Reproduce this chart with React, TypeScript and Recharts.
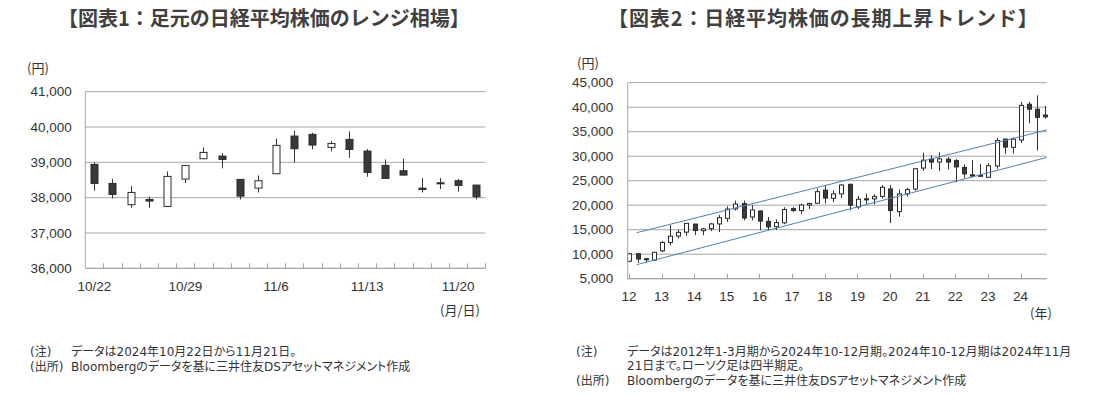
import React from 'react'
import { ComposedChart, Bar, XAxis, YAxis, CartesianGrid, ReferenceLine } from 'recharts'

// 図表1: 日次ローソク足 (2024/10/22〜11/21)
const dailyDates = ['10/22', '10/23', '10/24', '10/25', '10/28', '10/29', '10/30', '10/31', '11/1', '11/5', '11/6', '11/7', '11/8', '11/11', '11/12', '11/13', '11/14', '11/15', '11/18', '11/19', '11/20', '11/21']
const dailyOpen = [38941, 38403, 37800, 37950, 37752, 38526, 39102, 39178, 38517, 38271, 38677, 39744, 39791, 39423, 39650, 39319, 38913, 38762, 38270, 38420, 38479, 38356]
const dailyHigh = [38998, 38526, 38328, 38025, 38743, 38913, 39423, 39262, 38517, 38630, 39669, 39895, 39839, 39602, 39876, 39376, 39083, 39102, 38554, 38554, 38526, 38356]
const dailyLow = [38195, 37978, 37714, 37714, 37752, 38413, 39102, 38828, 37950, 38148, 38677, 38998, 39366, 39310, 39130, 38592, 38545, 38639, 38148, 38243, 38167, 37950]
const dailyClose = [38403, 38092, 38148, 37903, 38602, 38913, 39281, 39083, 38044, 38479, 39480, 39385, 39489, 39536, 39366, 38715, 38545, 38639, 38230, 38410, 38347, 38025]
const dailyLabels = ['10/22', '10/29', '11/6', '11/13', '11/20']
const dailyYTicks = [36000, 37000, 38000, 39000, 40000, 41000]

// 図表2: 四半期ローソク足 (2012年1-3月期〜2024年10-12月期)
const years = ['12', '13', '14', '15', '16', '17', '18', '19', '20', '21', '22', '23', '24']
const qOpen = [8560, 10100, 9070, 8800, 10690, 12400, 13700, 14500, 16150, 14800, 15200, 16180, 17325, 19250, 20330, 17600, 18820, 16720, 15600, 16400, 19300, 18900, 20050, 20400, 23070, 21400, 22300, 24250, 19650, 21300, 21300, 21800, 23320, 18690, 22300, 23300, 27580, 29400, 28800, 29400, 29100, 27700, 26200, 25900, 25700, 28000, 33500, 31800, 33300, 40600, 39600, 38400]
const qHigh = [10255, 10190, 9260, 10430, 12650, 15940, 14950, 16320, 16160, 15380, 16370, 18030, 19780, 20950, 20950, 20010, 18950, 17610, 17100, 19590, 19670, 20320, 20480, 23380, 24130, 23050, 24310, 24450, 21860, 22360, 22250, 24090, 24115, 23185, 23560, 27600, 30715, 30210, 30795, 29810, 29390, 28340, 29220, 28380, 28620, 33770, 33530, 33850, 41090, 41100, 42430, 40260]
const qLow = [8350, 8240, 8330, 8620, 10400, 11805, 13190, 13750, 13910, 13885, 14720, 14530, 16590, 18910, 16900, 16900, 14870, 14860, 14950, 16110, 18650, 18220, 19240, 20400, 20350, 20620, 21460, 18950, 19240, 20290, 20110, 21360, 16360, 17650, 21710, 22950, 27000, 27385, 26955, 27290, 24680, 25520, 25680, 25720, 25660, 27430, 30490, 30540, 32700, 36730, 31160, 37650]
const qClose = [10083, 9007, 8870, 10395, 12398, 13677, 14456, 16291, 14828, 15162, 16174, 17451, 19207, 20236, 17388, 19034, 16759, 15576, 16450, 19114, 18909, 20033, 20356, 22765, 21454, 22305, 24120, 20015, 21206, 21276, 21756, 23657, 18917, 22288, 23185, 27444, 29179, 28792, 29453, 28792, 27821, 26393, 25937, 26094, 28041, 33189, 31857, 33464, 40369, 39583, 37919, 38026]
const qYTicks = [5000, 10000, 15000, 20000, 25000, 30000, 35000, 40000, 45000]

// トレンドライン (四半期番号, 円)
const trendUpper = [{ i: 0.95, v: 14390 }, { i: 51.2, v: 35350 }]
const trendLower = [{ i: 0.95, v: 7860 }, { i: 51.2, v: 29740 }]

const dailyData = dailyDates.map((date, k) => ({
  date,
  open: dailyOpen[k],
  high: dailyHigh[k],
  low: dailyLow[k],
  close: dailyClose[k],
}))

const quarterData = qOpen.map((open, k) => ({
  i: k,
  open,
  high: qHigh[k],
  low: qLow[k],
  close: qClose[k],
}))

const TEXT = '#333'
const GRID = '#a6a6a6'
const NUM_FONT = '"Liberation Sans", "Noto Sans CJK JP", sans-serif'
const JP_FONT = '"Noto Sans CJK JP", sans-serif'
const NOTE_FONT = '"DejaVu Sans", "Noto Sans CJK JP", sans-serif'

const fmt = (v: number) => v.toLocaleString('en-US')

const Candle = (props: any) => {
  const { x, y, width, height, payload, bodyWidth } = props
  if (x == null || y == null || !payload) return null
  const top = Math.min(y, y + height)
  const h = Math.abs(height)
  const span = payload.high - payload.low
  const toY = (v: number) => (span > 0 ? top + ((payload.high - v) / span) * h : top)
  const cx = Math.round(x + width / 2) + 0.5
  const up = payload.close >= payload.open
  const bTop = toY(Math.max(payload.open, payload.close))
  const bBot = toY(Math.min(payload.open, payload.close))
  const bh = Math.max(bBot - bTop, 1)
  return (
    <g>
      <line x1={cx} x2={cx} y1={top} y2={top + h} stroke="#333" strokeWidth={1} />
      <rect
        x={cx - bodyWidth / 2}
        y={bTop}
        width={bodyWidth}
        height={bh}
        fill={up ? '#fff' : '#3a3a3a'}
        stroke="#2a2a2a"
        strokeWidth={1}
      />
    </g>
  )
}

const TICK_MARGIN = 13

const DailyTick = (props: any) => {
  const { x, y, payload } = props
  const half = payload.offset || 400 / 22 / 2
  const axisY = y - TICK_MARGIN
  const bx = Math.round(x + half) + 0.5
  return (
    <g>
      <line x1={bx} x2={bx} y1={axisY - 5} y2={axisY} stroke={GRID} />
      {dailyLabels.includes(payload.value) && (
        <text x={x} y={y} dy="0.71em" textAnchor="middle" fill={TEXT} fontSize={13.5} fontFamily={NUM_FONT}>
          {payload.value}
        </text>
      )}
    </g>
  )
}

const YearTick = (props: any) => {
  const { x, y, payload } = props
  const axisY = y - TICK_MARGIN
  const bx = Math.round(x) + 0.5
  return (
    <g>
      <line x1={bx} x2={bx} y1={axisY - 5} y2={axisY} stroke={GRID} />
      <text x={x} y={y} dy="0.71em" textAnchor="middle" fill={TEXT} fontSize={13.5} fontFamily={NUM_FONT}>
        {years[Math.round(payload.value / 4)]}
      </text>
    </g>
  )
}

const abs = (left: number, top: number, extra: React.CSSProperties = {}): React.CSSProperties => ({
  position: 'absolute',
  left,
  top,
  whiteSpace: 'nowrap',
  lineHeight: 1,
  ...extra,
})

const titleStyle: React.CSSProperties = {
  fontFamily: JP_FONT,
  fontWeight: 700,
  fontSize: 20,
  color: '#404040',
}

const noteStyle: React.CSSProperties = {
  fontFamily: NOTE_FONT,
  fontSize: 12,
  lineHeight: '13px',
  color: TEXT,
  fontFeatureSettings: '"palt"',
}

const unitStyle: React.CSSProperties = {
  fontFamily: JP_FONT,
  fontSize: 13,
  color: TEXT,
}

export default function App() {
  return (
    <div style={{ position: 'absolute', left: 0, top: 0, width: 1100, height: 397, background: '#fff', overflow: 'hidden' }}>
      <div style={abs(58, 8, titleStyle)}>【図表1：足元の日経平均株価のレンジ相場】</div>
      <div style={abs(608, 8, { ...titleStyle, letterSpacing: 0.9 })}>【図表2：日経平均株価の長期上昇トレンド】</div>

      <div style={abs(27, 61, unitStyle)}>(円)</div>
      <div style={abs(440, 303, unitStyle)}>(月/日)</div>
      <div style={abs(577, 56, unitStyle)}>(円)</div>
      <div style={abs(1030, 306, unitStyle)}>(年)</div>

      <div style={{ position: 'absolute', left: 0, top: 0 }}>
        <ComposedChart
          width={500}
          height={300}
          data={dailyData}
          margin={{ top: 91.7, right: 14.7, bottom: 11.7, left: 0 }}
        >
          <CartesianGrid vertical={false} stroke={GRID} />
          <XAxis
            dataKey="date"
            type="category"
            interval={0}
            height={20}
            tickLine={false}
            tickSize={0}
            tickMargin={TICK_MARGIN}
            axisLine={{ stroke: GRID }}
            tick={<DailyTick />}
          />
          <YAxis
            type="number"
            domain={[36000, 41000]}
            ticks={dailyYTicks}
            width={85.3}
            tickLine={false}
            tickSize={0}
            tickMargin={13.6}
            axisLine={{ stroke: GRID }}
            tickFormatter={fmt}
            tick={{ fill: TEXT, fontSize: 13.5, fontFamily: NUM_FONT }}
          />
          <Bar
            dataKey={(d: any) => [d.low, d.high]}
            barSize={8}
            isAnimationActive={false}
            shape={(p: any) => <Candle {...p} bodyWidth={7} />}
          />
        </ComposedChart>
      </div>

      <div style={{ position: 'absolute', left: 550, top: 0 }}>
        <ComposedChart
          width={510}
          height={320}
          data={quarterData}
          margin={{ top: 82.7, right: 13.3, bottom: 21.3, left: 0 }}
        >
          <CartesianGrid vertical={false} stroke={GRID} />
          <XAxis
            dataKey="i"
            type="number"
            domain={[-0.15, 51.2]}
            ticks={years.map((_, k) => k * 4)}
            interval={0}
            height={20}
            tickLine={false}
            tickSize={0}
            tickMargin={TICK_MARGIN}
            axisLine={{ stroke: GRID }}
            tick={<YearTick />}
          />
          <YAxis
            type="number"
            domain={[5000, 45000]}
            ticks={qYTicks}
            width={77.7}
            tickLine={false}
            tickSize={0}
            tickMargin={14.4}
            axisLine={{ stroke: GRID }}
            tickFormatter={fmt}
            tick={{ fill: TEXT, fontSize: 13.5, fontFamily: NUM_FONT }}
          />
          <ReferenceLine
            segment={[{ x: trendUpper[0].i, y: trendUpper[0].v }, { x: trendUpper[1].i, y: trendUpper[1].v }]}
            stroke="#4f81bd"
            strokeWidth={1}
            ifOverflow="visible"
          />
          <ReferenceLine
            segment={[{ x: trendLower[0].i, y: trendLower[0].v }, { x: trendLower[1].i, y: trendLower[1].v }]}
            stroke="#4f81bd"
            strokeWidth={1}
            ifOverflow="visible"
          />
          <Bar
            dataKey={(d: any) => [d.low, d.high]}
            barSize={5}
            isAnimationActive={false}
            shape={(p: any) => <Candle {...p} bodyWidth={4} />}
          />
        </ComposedChart>
      </div>

      <div style={abs(30, 345.5, noteStyle)}>(注)</div>
      <div style={abs(71, 345.5, noteStyle)}>データは2024年10月22日から11月21日。</div>
      <div style={abs(30, 360.5, noteStyle)}>(出所)</div>
      <div style={abs(71, 360.5, noteStyle)}>Bloombergのデータを基に三井住友DSアセットマネジメント作成</div>

      <div style={abs(576, 345.5, noteStyle)}>(注)</div>
      <div style={abs(627, 345.5, noteStyle)}>データは2012年1-3月期から2024年10-12月期。2024年10-12月期は2024年11月</div>
      <div style={abs(627, 360, noteStyle)}>21日まで。ローソク足は四半期足。</div>
      <div style={abs(576, 374.5, noteStyle)}>(出所)</div>
      <div style={abs(627, 374.5, noteStyle)}>Bloombergのデータを基に三井住友DSアセットマネジメント作成</div>
    </div>
  )
}
